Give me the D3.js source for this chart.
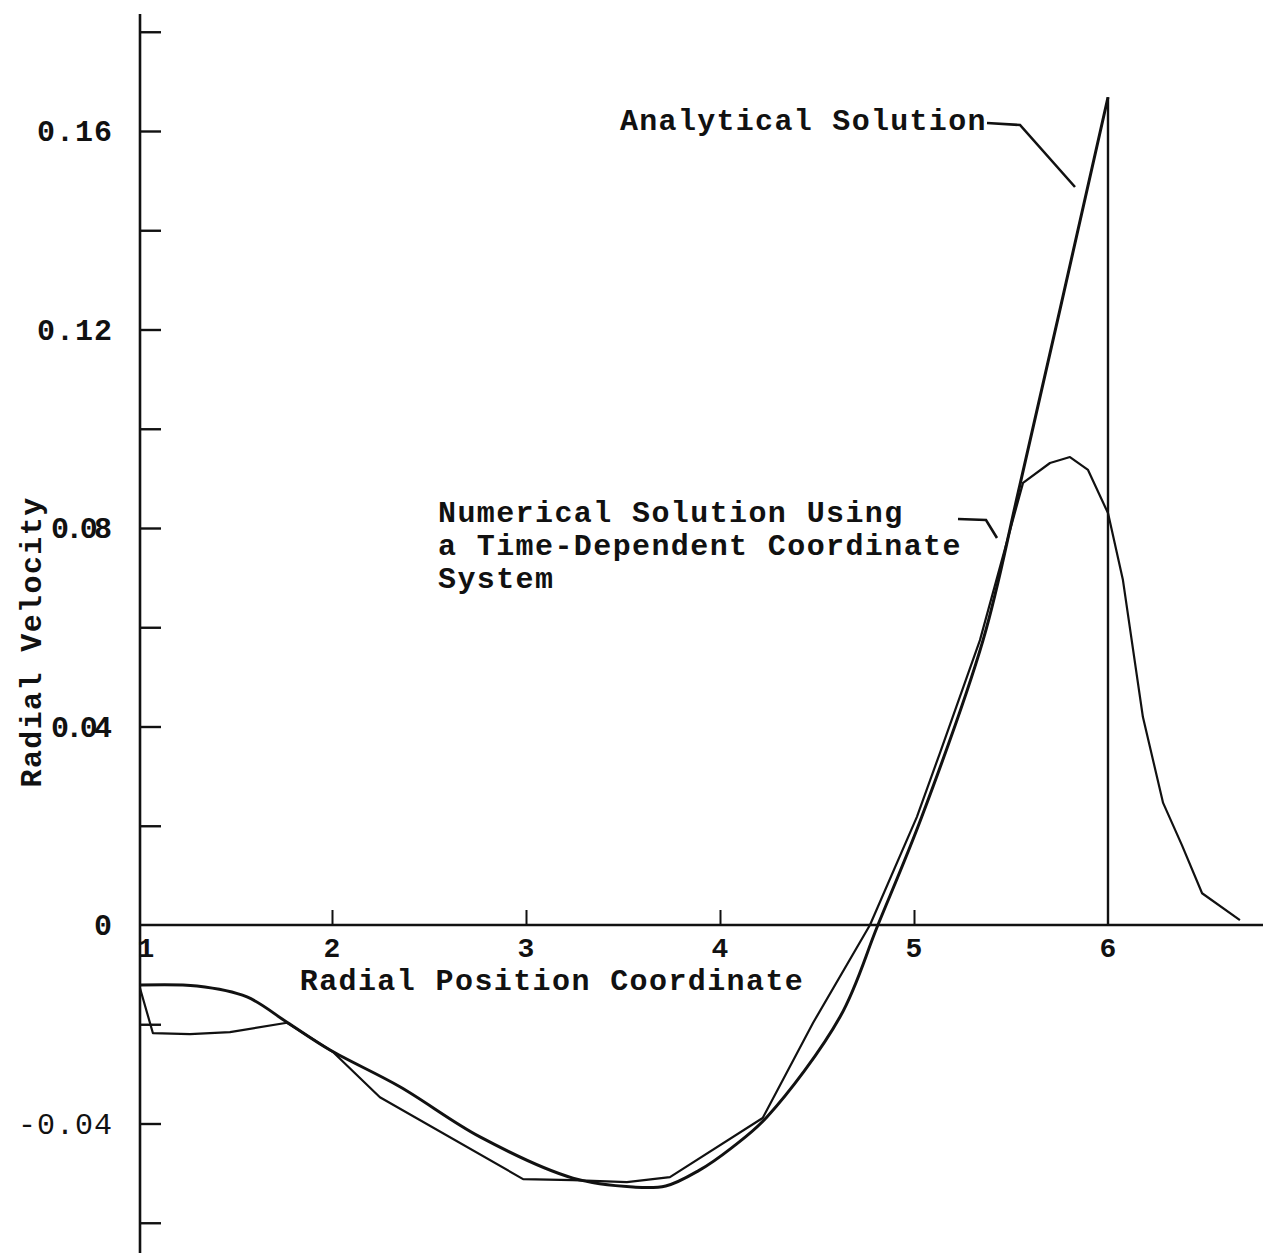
<!DOCTYPE html>
<html>
<head>
<meta charset="utf-8">
<script src="https://cdn.jsdelivr.net/npm/d3@7"></script>
<style>
	body { margin: 0; background: #fff; }
	text { font-family: "Liberation Mono", "DejaVu Sans Mono", monospace; font-weight: bold; fill: #111; }
</style>
</head>
<body>
<svg id="chart" width="1263" height="1253"></svg>
<script>

// Data

var analyticX = [1.01, 1.304, 1.562, 1.768, 1.99, 2.35, 2.763, 3.242, 3.552, 3.72, 3.89, 4.06, 4.242, 4.619, 4.814, 5.04, 5.356, 5.546, 6.0];
var analyticV = [-0.0121, -0.0123, -0.0145, -0.0196, -0.0252, -0.0326, -0.0427, -0.051, -0.0528, -0.0526, -0.0495, -0.0449, -0.0387, -0.0185, 0, 0.0218, 0.0574, 0.0887, 0.1668];

var numericalX = [1.01, 1.077, 1.268, 1.474, 1.768, 2.005, 2.247, 2.985, 3.242, 3.52, 3.742, 4.22, 4.48, 4.773, 5.015, 5.134, 5.34, 5.562, 5.701, 5.804, 5.897, 6.0, 6.077, 6.18, 6.284, 6.381, 6.485, 6.68];
var numericalV = [-0.0127, -0.0218, -0.022, -0.0216, -0.0197, -0.0256, -0.0347, -0.0512, -0.0514, -0.0518, -0.0508, -0.0389, -0.0197, 0, 0.0218, 0.0347, 0.0574, 0.0891, 0.0931, 0.0943, 0.0917, 0.083, 0.0695, 0.0419, 0.0246, 0.0161, 0.0064, 0.001];

var yTickValues = [-0.06, -0.04, -0.02, 0.02, 0.04, 0.06, 0.08, 0.10, 0.12, 0.14, 0.16, 0.18];
var yLabelValues = [-0.04, 0, 0.04, 0.08, 0.12, 0.16];
var yLabelTexts = ["-0.04", "0", "0.04", "0.08", "0.12", "0.16"];
var xTickValues = [2, 3, 4, 5];
var xLabelValues = [1, 2, 3, 4, 5, 6];

var xTitle = "Radial Position Coordinate";
var yTitle = "Radial Velocity";
var analyticNote = ["Analytical Solution"];
var numericalNote = ["Numerical Solution Using", "a Time-Dependent Coordinate", "System"];

// Scales

var svg = d3.select("#chart");

var x = d3.scaleLinear().domain([1, 6]).range([138, 1108]);
var y = d3.scaleLinear().domain([0, 0.16]).range([925, 131]);

var axisX = 140;

// Axes

svg.append("line")
	.attr("x1", axisX).attr("x2", axisX)
	.attr("y1", 14).attr("y2", 1253)
	.style("stroke", "#111").style("stroke-width", 2.6);

svg.append("line")
	.attr("x1", axisX).attr("x2", 1263)
	.attr("y1", y(0)).attr("y2", y(0))
	.style("stroke", "#111").style("stroke-width", 2.6);

var yAxis = svg.append("g")
	.attr("transform", "translate(" + axisX + ",0)")
	.call(d3.axisRight(y).tickValues(yTickValues).tickSize(21).tickFormat(""));
yAxis.select(".domain").remove();
yAxis.selectAll(".tick line").style("stroke", "#111").style("stroke-width", 2.4);

var xAxis = svg.append("g")
	.attr("transform", "translate(0," + y(0) + ")")
	.call(d3.axisTop(x).tickValues(xTickValues).tickSize(15).tickFormat(""));
xAxis.select(".domain").remove();
xAxis.selectAll(".tick line").style("stroke", "#111").style("stroke-width", 2);

// Tick labels

svg.selectAll(".ylabel")
	.data(yLabelValues)
	.enter().append("text")
	.attr("class", "ylabel")
	.attr("x", 113)
	.attr("y", function (d) { return y(d) + 10; })
	.attr("text-anchor", "end")
	.style("font-size", "30px")
	.style("letter-spacing", "1px")
	.style("font-weight", function (d) { return d < 0 ? "normal" : "bold"; })
	.attr("textLength", function (d) {
		// the two labels beside the axis title are squeezed in the original
		return (d == 0.04 || d == 0.08) ? 62 : null;
	})
	.text(function (d, i) { return yLabelTexts[i]; });

svg.selectAll(".xlabel")
	.data(xLabelValues)
	.enter().append("text")
	.attr("class", "xlabel")
	.attr("x", function (d) { return d == 1 ? x(d) + 8 : x(d); })
	.attr("y", y(0) + 32)
	.attr("text-anchor", "middle")
	.style("font-size", "28px")
	.text(function (d) { return d; });

// Axis titles

svg.append("text")
	.attr("x", 552)
	.attr("y", 990)
	.attr("text-anchor", "middle")
	.style("font-size", "30px")
	.style("letter-spacing", "1.4px")
	.text(xTitle);

svg.append("text")
	.attr("transform", "translate(41,642) rotate(-90)")
	.attr("text-anchor", "middle")
	.style("font-size", "30px")
	.style("letter-spacing", "1.4px")
	.text(yTitle);

// Curves

var analytic = analyticX.map(function (d, i) { return [d, analyticV[i]]; });
var numerical = numericalX.map(function (d, i) { return [d, numericalV[i]]; });

var smooth = d3.line()
	.x(function (d) { return x(d[0]); })
	.y(function (d) { return y(d[1]); })
	.curve(d3.curveCatmullRom.alpha(0.5));

var straight = d3.line()
	.x(function (d) { return x(d[0]); })
	.y(function (d) { return y(d[1]); });

svg.append("path")
	.attr("d", smooth(analytic))
	.style("fill", "none")
	.style("stroke", "#111")
	.style("stroke-width", 3);

// drop of the analytical solution back to zero at the front
var peak = analytic[analytic.length - 1];
svg.append("path")
	.attr("d", straight([peak, [peak[0], 0]]))
	.style("fill", "none")
	.style("stroke", "#111")
	.style("stroke-width", 2.4);

svg.append("path")
	.attr("d", straight(numerical))
	.style("fill", "none")
	.style("stroke", "#111")
	.style("stroke-width", 2.2)
	.style("stroke-linejoin", "round");

// Annotations

svg.selectAll(".note1")
	.data(analyticNote)
	.enter().append("text")
	.attr("class", "note1")
	.attr("x", 620)
	.attr("y", 130)
	.style("font-size", "30px")
	.style("letter-spacing", "1.3px")
	.text(function (d) { return d; });

svg.selectAll(".note2")
	.data(numericalNote)
	.enter().append("text")
	.attr("class", "note2")
	.attr("x", 438)
	.attr("y", function (d, i) { return 522 + i * 33; })
	.style("font-size", "30px")
	.style("letter-spacing", "1.4px")
	.text(function (d) { return d; });

svg.append("path")
	.attr("d", "M987,123L1020,125L1075,187")
	.style("fill", "none").style("stroke", "#111").style("stroke-width", 2.6);

svg.append("path")
	.attr("d", "M958,519L986,520L997,538")
	.style("fill", "none").style("stroke", "#111").style("stroke-width", 2.6);

</script>
</body>
</html>
